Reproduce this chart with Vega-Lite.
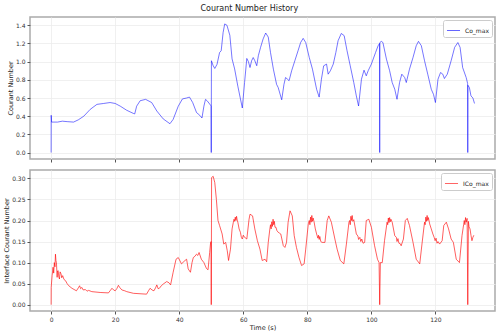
{
  "$schema": "https://vega.github.io/schema/vega-lite/v6.json",
  "padding": {"left": 2, "top": 5, "right": 5, "bottom": 5},
  "title": {"text": "Courant Number History", "fontSize": 8, "fontWeight": "normal", "font": "DejaVu Sans", "color": "#222", "anchor": "middle", "offset": 3},
  "config": {
    "font": "DejaVu Sans",
    "view": {"stroke": "#aaaaaa", "strokeWidth": 1.5},
    "axis": {"labelFontSize": 6, "titleFontSize": 6.5, "titleFontWeight": "normal", "labelColor": "#333", "titleColor": "#222", "tickColor": "#555", "tickSize": 3, "domain": false, "gridColor": "#ececec", "gridWidth": 0.8, "labelPadding": 2, "titlePadding": 2},
    "legend": {"labelFontSize": 6, "labelColor": "#222", "strokeColor": "#cccccc", "fillColor": "white", "padding": 3, "cornerRadius": 2, "symbolType": "stroke", "symbolSize": 170, "symbolStrokeWidth": 1, "orient": "top-right", "offset": 3, "title": null}
  },
  "datasets": {
    "co": [
      {"t":0,"v":0},{"t":0.02,"v":0.41},{"t":0.15,"v":0.335},{"t":2,"v":0.335},{"t":3.5,"v":0.345},{"t":5,"v":0.34},{"t":7,"v":0.335},{"t":8.5,"v":0.36},{"t":10.2,"v":0.40},{"t":12.2,"v":0.475},{"t":14.3,"v":0.53},{"t":16.4,"v":0.54},{"t":18.4,"v":0.55},{"t":20,"v":0.54},{"t":21.6,"v":0.51},{"t":23.6,"v":0.465},{"t":25.7,"v":0.43},{"t":26.1,"v":0.425},{"t":26.7,"v":0.51},{"t":27.8,"v":0.57},{"t":29.5,"v":0.585},{"t":31.4,"v":0.55},{"t":33,"v":0.457},{"t":35,"v":0.37},{"t":37.1,"v":0.317},{"t":38.1,"v":0.365},{"t":39.7,"v":0.51},{"t":41,"v":0.59},{"t":42.3,"v":0.60},{"t":43.2,"v":0.61},{"t":44.2,"v":0.55},{"t":45.4,"v":0.44},{"t":46.4,"v":0.41},{"t":47.1,"v":0.38},{"t":47.7,"v":0.51},{"t":48.2,"v":0.585},{"t":48.7,"v":0.57},{"t":49.8,"v":0.52},{"t":49.95,"v":0.51},{"t":50,"v":0},{"t":50.05,"v":1.01},{"t":50.6,"v":0.955},{"t":51.1,"v":0.925},{"t":51.8,"v":0.97},{"t":52.6,"v":1.10},{"t":53.1,"v":1.12},{"t":53.7,"v":1.32},{"t":54.2,"v":1.415},{"t":54.9,"v":1.40},{"t":55.8,"v":1.29},{"t":56.5,"v":1.03},{"t":57.3,"v":0.92},{"t":58.3,"v":0.73},{"t":59.7,"v":0.49},{"t":60.4,"v":0.77},{"t":61.1,"v":1.035},{"t":61.6,"v":1.0},{"t":62.1,"v":0.935},{"t":62.6,"v":1.01},{"t":63.1,"v":1.045},{"t":63.6,"v":1.01},{"t":64.2,"v":0.955},{"t":64.7,"v":1.065},{"t":65.4,"v":1.157},{"t":66.2,"v":1.25},{"t":67,"v":1.315},{"t":67.8,"v":1.27},{"t":68.5,"v":1.10},{"t":69.4,"v":0.917},{"t":70.4,"v":0.75},{"t":70.9,"v":0.715},{"t":72,"v":0.58},{"t":72.7,"v":0.75},{"t":73.2,"v":0.825},{"t":73.8,"v":0.807},{"t":74.3,"v":0.79},{"t":75.1,"v":0.90},{"t":76.1,"v":1.01},{"t":77.1,"v":1.12},{"t":77.9,"v":1.21},{"t":78.7,"v":1.256},{"t":79.5,"v":1.21},{"t":80.6,"v":1.046},{"t":81.6,"v":0.917},{"t":82.9,"v":0.696},{"t":83.7,"v":0.61},{"t":84.4,"v":0.807},{"t":85.1,"v":0.954},{"t":86,"v":0.973},{"t":86.5,"v":0.862},{"t":87.2,"v":0.90},{"t":88.1,"v":0.973},{"t":88.9,"v":1.10},{"t":89.6,"v":1.23},{"t":90.6,"v":1.31},{"t":91.5,"v":1.286},{"t":92.4,"v":1.12},{"t":93.4,"v":0.954},{"t":94.5,"v":0.77},{"t":95.3,"v":0.623},{"t":96,"v":0.512},{"t":96.9,"v":0.807},{"t":97.7,"v":0.906},{"t":98.4,"v":0.844},{"t":99,"v":0.90},{"t":100,"v":0.973},{"t":101.3,"v":1.10},{"t":102.1,"v":1.175},{"t":102.55,"v":1.2},{"t":102.6,"v":0},{"t":102.65,"v":1.21},{"t":103.1,"v":1.223},{"t":103.6,"v":1.21},{"t":104.7,"v":1.028},{"t":105.7,"v":0.90},{"t":106.5,"v":0.77},{"t":107.3,"v":0.696},{"t":108,"v":0.586},{"t":108.8,"v":0.77},{"t":109.5,"v":0.862},{"t":110.4,"v":0.825},{"t":110.9,"v":0.77},{"t":111.9,"v":0.917},{"t":113,"v":1.046},{"t":114,"v":1.175},{"t":114.7,"v":1.223},{"t":115.6,"v":1.175},{"t":116.6,"v":1.01},{"t":117.6,"v":0.862},{"t":118.7,"v":0.696},{"t":119.4,"v":0.64},{"t":120,"v":0.55},{"t":120.8,"v":0.807},{"t":121.6,"v":0.88},{"t":122.3,"v":0.862},{"t":122.8,"v":0.814},{"t":123.7,"v":0.862},{"t":124.9,"v":1.01},{"t":126,"v":1.157},{"t":127,"v":1.21},{"t":127.7,"v":1.157},{"t":128.5,"v":0.935},{"t":129.6,"v":0.825},{"t":130.05,"v":0.76},{"t":130.1,"v":0},{"t":130.15,"v":0.74},{"t":130.6,"v":0.715},{"t":131.1,"v":0.623},{"t":131.7,"v":0.60},{"t":132.2,"v":0.54}
    ],
    "ico": [
      {"t":0,"v":0},{"t":0.02,"v":0.041},{"t":0.3,"v":0.069},{"t":0.6,"v":0.089},{"t":0.8,"v":0.075},{"t":1.0,"v":0.10},{"t":1.2,"v":0.09},{"t":1.35,"v":0.12},{"t":1.5,"v":0.105},{"t":1.66,"v":0.10},{"t":1.87,"v":0.065},{"t":2.0,"v":0.08},{"t":2.2,"v":0.081},{"t":2.4,"v":0.066},{"t":2.6,"v":0.061},{"t":2.8,"v":0.078},{"t":3.1,"v":0.073},{"t":3.3,"v":0.064},{"t":3.6,"v":0.069},{"t":4.0,"v":0.06},{"t":4.5,"v":0.057},{"t":5.0,"v":0.05},{"t":5.5,"v":0.045},{"t":6.5,"v":0.039},{"t":7.9,"v":0.033},{"t":8.5,"v":0.04},{"t":8.9,"v":0.045},{"t":9.2,"v":0.038},{"t":9.6,"v":0.041},{"t":10.0,"v":0.035},{"t":10.7,"v":0.036},{"t":11.2,"v":0.032},{"t":11.7,"v":0.034},{"t":12.7,"v":0.031},{"t":15.3,"v":0.029},{"t":17.9,"v":0.028},{"t":18.5,"v":0.034},{"t":19,"v":0.039},{"t":19.5,"v":0.035},{"t":20,"v":0.033},{"t":20.5,"v":0.038},{"t":21,"v":0.046},{"t":21.5,"v":0.04},{"t":22.1,"v":0.035},{"t":23,"v":0.033},{"t":23.6,"v":0.031},{"t":25.7,"v":0.027},{"t":29.8,"v":0.025},{"t":30.4,"v":0.033},{"t":30.9,"v":0.039},{"t":31.5,"v":0.035},{"t":32.1,"v":0.033},{"t":32.6,"v":0.04},{"t":33,"v":0.047},{"t":33.4,"v":0.038},{"t":33.8,"v":0.039},{"t":34.4,"v":0.045},{"t":35,"v":0.049},{"t":36.1,"v":0.055},{"t":36.8,"v":0.052},{"t":37.3,"v":0.047},{"t":38.1,"v":0.077},{"t":39,"v":0.108},{"t":39.7,"v":0.112},{"t":40.7,"v":0.097},{"t":41.8,"v":0.105},{"t":42.3,"v":0.108},{"t":42.8,"v":0.085},{"t":43.5,"v":0.077},{"t":44.0,"v":0.1},{"t":44.4,"v":0.112},{"t":44.9,"v":0.115},{"t":45.4,"v":0.12},{"t":45.8,"v":0.117},{"t":46.2,"v":0.124},{"t":46.9,"v":0.108},{"t":47.7,"v":0.10},{"t":48.5,"v":0.086},{"t":49,"v":0.083},{"t":49.5,"v":0.124},{"t":49.8,"v":0.148},{"t":49.95,"v":0.15},{"t":50,"v":0},{"t":50.1,"v":0.302},{"t":50.6,"v":0.305},{"t":51.1,"v":0.29},{"t":51.6,"v":0.25},{"t":52.1,"v":0.20},{"t":52.6,"v":0.188},{"t":53.4,"v":0.168},{"t":53.9,"v":0.144},{"t":54.5,"v":0.148},{"t":55,"v":0.128},{"t":55.4,"v":0.105},{"t":56,"v":0.132},{"t":56.5,"v":0.18},{"t":56.9,"v":0.196},{"t":57.1,"v":0.203},{"t":57.3,"v":0.198},{"t":57.5,"v":0.208},{"t":57.7,"v":0.2},{"t":57.9,"v":0.21},{"t":58.1,"v":0.201},{"t":58.3,"v":0.196},{"t":58.7,"v":0.18},{"t":59.1,"v":0.172},{"t":59.4,"v":0.16},{"t":59.7,"v":0.156},{"t":60.0,"v":0.165},{"t":60.4,"v":0.16},{"t":60.8,"v":0.158},{"t":61.1,"v":0.156},{"t":61.8,"v":0.203},{"t":62.1,"v":0.215},{"t":62.9,"v":0.211},{"t":63.6,"v":0.18},{"t":64.4,"v":0.152},{"t":65.2,"v":0.132},{"t":65.9,"v":0.105},{"t":66.8,"v":0.108},{"t":67.3,"v":0.102},{"t":67.8,"v":0.148},{"t":68.3,"v":0.18},{"t":68.5,"v":0.19},{"t":68.7,"v":0.18},{"t":68.9,"v":0.197},{"t":69.1,"v":0.186},{"t":69.3,"v":0.203},{"t":69.5,"v":0.19},{"t":69.7,"v":0.198},{"t":69.9,"v":0.184},{"t":70.2,"v":0.184},{"t":70.5,"v":0.176},{"t":70.9,"v":0.172},{"t":71.3,"v":0.17},{"t":71.7,"v":0.168},{"t":72.5,"v":0.14},{"t":73,"v":0.136},{"t":73.5,"v":0.148},{"t":74,"v":0.196},{"t":74.6,"v":0.223},{"t":75.3,"v":0.211},{"t":75.9,"v":0.164},{"t":76.6,"v":0.136},{"t":77.4,"v":0.112},{"t":78.2,"v":0.093},{"t":79,"v":0.097},{"t":79.5,"v":0.132},{"t":80.3,"v":0.192},{"t":80.6,"v":0.2},{"t":80.8,"v":0.19},{"t":81.0,"v":0.208},{"t":81.2,"v":0.196},{"t":81.4,"v":0.212},{"t":81.6,"v":0.198},{"t":81.8,"v":0.206},{"t":82.1,"v":0.197},{"t":82.5,"v":0.18},{"t":82.9,"v":0.168},{"t":83.3,"v":0.158},{"t":83.5,"v":0.165},{"t":83.7,"v":0.155},{"t":83.9,"v":0.162},{"t":84.2,"v":0.15},{"t":84.6,"v":0.148},{"t":85.5,"v":0.148},{"t":86.2,"v":0.20},{"t":86.7,"v":0.211},{"t":87.5,"v":0.196},{"t":88.6,"v":0.156},{"t":89.3,"v":0.132},{"t":90.3,"v":0.105},{"t":91.4,"v":0.097},{"t":92.2,"v":0.144},{"t":93,"v":0.196},{"t":93.2,"v":0.2},{"t":93.4,"v":0.19},{"t":93.6,"v":0.21},{"t":93.8,"v":0.2},{"t":94.0,"v":0.212},{"t":94.2,"v":0.198},{"t":94.5,"v":0.202},{"t":94.9,"v":0.185},{"t":95.3,"v":0.168},{"t":95.8,"v":0.163},{"t":96.0,"v":0.155},{"t":96.4,"v":0.16},{"t":96.7,"v":0.15},{"t":97.0,"v":0.156},{"t":97.4,"v":0.146},{"t":97.9,"v":0.148},{"t":98.4,"v":0.20},{"t":99.2,"v":0.203},{"t":100,"v":0.184},{"t":101,"v":0.14},{"t":101.9,"v":0.108},{"t":102.4,"v":0.10},{"t":102.6,"v":0},{"t":102.8,"v":0.10},{"t":103.4,"v":0.10},{"t":104.1,"v":0.152},{"t":104.9,"v":0.196},{"t":105.1,"v":0.19},{"t":105.3,"v":0.206},{"t":105.5,"v":0.195},{"t":105.7,"v":0.207},{"t":105.9,"v":0.197},{"t":106.1,"v":0.203},{"t":106.5,"v":0.196},{"t":107.3,"v":0.164},{"t":107.8,"v":0.16},{"t":108.0,"v":0.15},{"t":108.3,"v":0.157},{"t":108.6,"v":0.146},{"t":109.0,"v":0.145},{"t":109.3,"v":0.14},{"t":110,"v":0.156},{"t":110.6,"v":0.20},{"t":111.2,"v":0.205},{"t":111.9,"v":0.188},{"t":113,"v":0.148},{"t":114,"v":0.108},{"t":115.1,"v":0.097},{"t":115.8,"v":0.144},{"t":116.6,"v":0.196},{"t":116.8,"v":0.19},{"t":117.0,"v":0.208},{"t":117.2,"v":0.198},{"t":117.4,"v":0.212},{"t":117.6,"v":0.2},{"t":117.8,"v":0.207},{"t":118.2,"v":0.192},{"t":118.7,"v":0.18},{"t":119.2,"v":0.168},{"t":119.6,"v":0.16},{"t":119.9,"v":0.152},{"t":120.2,"v":0.158},{"t":120.5,"v":0.146},{"t":120.8,"v":0.15},{"t":121.3,"v":0.144},{"t":122.1,"v":0.152},{"t":122.6,"v":0.188},{"t":123.4,"v":0.196},{"t":124.1,"v":0.18},{"t":124.9,"v":0.156},{"t":125.6,"v":0.148},{"t":126.5,"v":0.108},{"t":127.5,"v":0.10},{"t":128.3,"v":0.164},{"t":128.8,"v":0.19},{"t":129.0,"v":0.2},{"t":129.2,"v":0.19},{"t":129.4,"v":0.207},{"t":129.6,"v":0.196},{"t":129.9,"v":0.205},{"t":130.1,"v":0},{"t":130.3,"v":0.198},{"t":130.5,"v":0.185},{"t":130.8,"v":0.18},{"t":131.1,"v":0.165},{"t":131.4,"v":0.152},{"t":131.7,"v":0.16},{"t":132,"v":0.165}
    ]
  },
  "vconcat": [
    {
      "width": 465, "height": 142,
      "data": {"name": "co"},
      "transform": [{"calculate": "'Co_max'", "as": "series"}],
      "mark": {"type": "line", "strokeWidth": 0.9, "opacity": 0.6, "clip": true},
      "encoding": {
        "x": {"field": "t", "type": "quantitative", "scale": {"domain": [-6.6, 138.6], "nice": false, "zero": false}, "axis": {"values": [0,20,40,60,80,100,120], "labels": false, "title": null}},
        "y": {"field": "v", "type": "quantitative", "scale": {"domain": [-0.071, 1.491], "nice": false}, "axis": {"values": [0,0.2,0.4,0.6,0.8,1.0,1.2,1.4], "format": ".1f", "title": "Courant Number"}},
        "color": {"field": "series", "type": "nominal", "scale": {"range": ["blue"]}, "legend": {"symbolOpacity": 0.6}}
      }
    },
    {
      "width": 465, "height": 141,
      "data": {"name": "ico"},
      "transform": [{"calculate": "'ICo_max'", "as": "series"}],
      "mark": {"type": "line", "strokeWidth": 0.9, "opacity": 0.7, "clip": true},
      "encoding": {
        "x": {"field": "t", "type": "quantitative", "scale": {"domain": [-6.6, 138.6], "nice": false, "zero": false}, "axis": {"values": [0,20,40,60,80,100,120], "title": "Time (s)"}},
        "y": {"field": "v", "type": "quantitative", "scale": {"domain": [-0.015, 0.32], "nice": false}, "axis": {"values": [0,0.05,0.1,0.15,0.2,0.25,0.3], "format": ".2f", "title": "Interface Courant Number"}},
        "color": {"field": "series", "type": "nominal", "scale": {"range": ["red"]}, "legend": {"symbolOpacity": 0.6}}
      }
    }
  ],
  "resolve": {"scale": {"color": "independent", "x": "independent", "y": "independent"}, "legend": {"color": "independent"}},
  "spacing": 5
}
